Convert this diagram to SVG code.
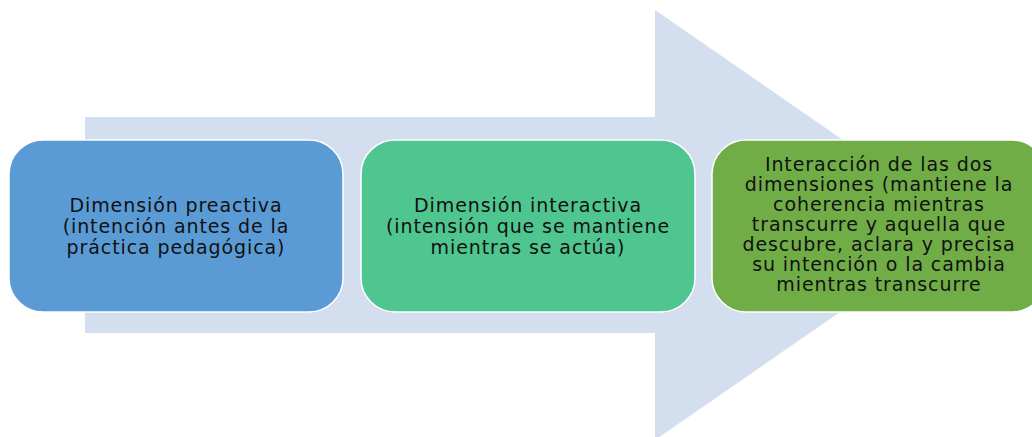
<svg xmlns="http://www.w3.org/2000/svg" width="1032" height="437" viewBox="0 0 1032 437">
<style>
.box{stroke:#ffffff;stroke-width:1.5}
.t{font-family:"DejaVu Sans","Liberation Sans",sans-serif;font-size:19px;letter-spacing:0.9px;fill:#111;text-anchor:middle}
</style>
<rect width="1032" height="437" fill="#ffffff"/>
<g id="arrow">
<polygon points="85,117 655,117 655,10 966,225 655,440 655,333 85,333" fill="#d3deef"/>
</g>
<g id="connectors"></g>
<g id="node1">
<rect class="box" x="9" y="140" width="334" height="172" rx="34" fill="#5b9bd5"/>
<text class="t"><tspan x="176" y="212">Dimensión preactiva</tspan><tspan x="176" y="233">(intención antes de la</tspan><tspan x="176" y="254">práctica pedagógica)</tspan></text>
</g>
<g id="node2">
<rect class="box" x="361" y="140" width="334" height="172" rx="34" fill="#4fc590"/>
<text class="t"><tspan x="528" y="212">Dimensión interactiva</tspan><tspan x="528" y="233">(intensión que se mantiene</tspan><tspan x="528" y="254">mientras se actúa)</tspan></text>
</g>
<g id="node3">
<rect class="box" x="712" y="140" width="334" height="172" rx="34" fill="#70ad47"/>
<text class="t"><tspan x="879" y="171">Interacción de las dos</tspan><tspan x="879" y="191">dimensiones (mantiene la</tspan><tspan x="879" y="211">coherencia mientras</tspan><tspan x="879" y="231">transcurre y aquella que</tspan><tspan x="879" y="251">descubre, aclara y precisa</tspan><tspan x="879" y="271">su intención o la cambia</tspan><tspan x="879" y="291">mientras transcurre</tspan></text>
</g>
</svg>
